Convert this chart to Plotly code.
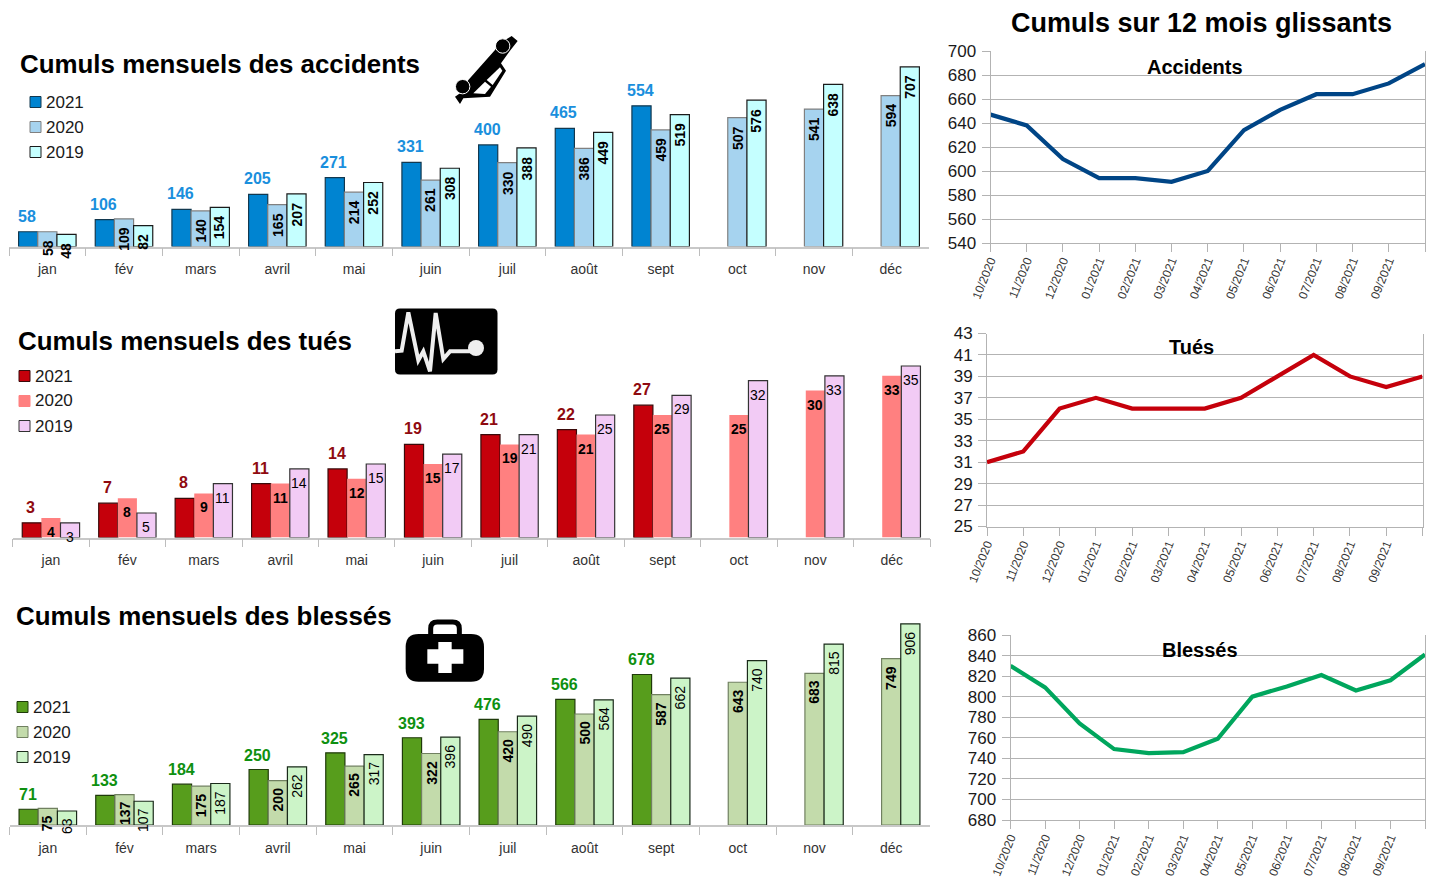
import plotly.graph_objects as go

WIDTH, HEIGHT = 1431, 878
FONT = "Liberation Sans"

months = ["jan", "fév", "mars", "avril", "mai", "juin", "juil", "août", "sept", "oct", "nov", "déc"]
roll_months = ["10/2020", "11/2020", "12/2020", "01/2021", "02/2021", "03/2021", "04/2021",
               "05/2021", "06/2021", "07/2021", "08/2021", "09/2021", ""]

acc_2021 = [58, 106, 146, 205, 271, 331, 400, 465, 554, None, None, None]
acc_2020 = [58, 109, 140, 165, 214, 261, 330, 386, 459, 507, 541, 594]
acc_2019 = [48, 82, 154, 207, 252, 308, 388, 449, 519, 576, 638, 707]

tues_2021 = [3, 7, 8, 11, 14, 19, 21, 22, 27, None, None, None]
tues_2020 = [4, 8, 9, 11, 12, 15, 19, 21, 25, 25, 30, 33]
tues_2019 = [3, 5, 11, 14, 15, 17, 21, 25, 29, 32, 33, 35]

bles_2021 = [71, 133, 184, 250, 325, 393, 476, 566, 678, None, None, None]
bles_2020 = [75, 137, 175, 200, 265, 322, 420, 500, 587, 643, 683, 749]
bles_2019 = [63, 107, 187, 262, 317, 396, 490, 564, 662, 740, 815, 906]

roll_acc = [647, 638, 610, 594, 594, 591, 600, 634, 651, 664, 664, 673, 689]
roll_tues = [31, 32, 36, 37, 36, 36, 36, 37, 39, 41, 39, 38, 39]
roll_bles = [830, 809, 774, 749, 745, 746, 759, 800, 810, 821, 806, 816, 841]


def px(x):
    return x / WIDTH


def py(y):
    return 1 - y / HEIGHT


def p(x, y):
    return f"{px(x):.5f},{py(y):.5f}"


fig = go.Figure()
annotations, shapes = [], []


def text(x, y, s, size, color="#000000", bold=False, anchor="left"):
    annotations.append(dict(
        xref="paper", yref="paper", x=px(x), y=py(y), text=f"<b>{s}</b>" if bold else s,
        showarrow=False, xanchor=anchor, yanchor="middle", borderpad=0, borderwidth=0,
        font=dict(family=FONT, size=size, color=color)))


def poly(points, fill="#000000"):
    d = "M " + " L ".join(p(*q) for q in points) + " Z"
    shapes.append(dict(type="path", xref="paper", yref="paper", path=d, fillcolor=fill,
                       line=dict(width=0), layer="above"))


def circle(cx, cy, r, fill="#000000", line=None, lw=0):
    shapes.append(dict(type="circle", xref="paper", yref="paper", x0=px(cx - r), x1=px(cx + r),
                       y0=py(cy + r), y1=py(cy - r), fillcolor=fill,
                       line=dict(width=lw, color=line or fill), layer="above"))


def rounded(x0, y0, x1, y1, r, fill):
    d = (f"M {p(x0 + r, y0)} L {p(x1 - r, y0)} Q {p(x1, y0)} {p(x1, y0 + r)} "
         f"L {p(x1, y1 - r)} Q {p(x1, y1)} {p(x1 - r, y1)} L {p(x0 + r, y1)} "
         f"Q {p(x0, y1)} {p(x0, y1 - r)} L {p(x0, y0 + r)} Q {p(x0, y0)} {p(x0 + r, y0)} Z")
    shapes.append(dict(type="path", xref="paper", yref="paper", path=d, fillcolor=fill,
                       line=dict(width=0), layer="above"))


def stroke(d, color, width):
    shapes.append(dict(type="path", xref="paper", yref="paper", path=d,
                       line=dict(width=width, color=color), layer="above"))


def bar_panel(idx, left, right, base, top, ymax, series, colors, lines, label2021, lift, inner, legend):
    xa, ya = f"xaxis{idx}", f"yaxis{idx}"
    xr, yr = f"x{idx}", f"y{idx}"
    years = ["2021", "2020", "2019"]
    for yr_name, vals, col, ln in zip(years, series, colors, lines):
        fig.add_trace(go.Bar(x=months, y=vals, name=yr_name, xaxis=xr, yaxis=yr, showlegend=False,
                             marker=dict(color=col, line=dict(color=ln, width=1.2 if ln else 0))))
    fig.layout[xa] = dict(domain=[px(left), px(right)], anchor=yr, type="category",
                          range=[-0.5, 11.5], tickson="boundaries", ticks="outside", ticklen=8,
                          tickcolor="#bdbdbd", tickwidth=1.2, showline=True, linecolor="#c8c8c8",
                          linewidth=1.5, showgrid=False, fixedrange=True, ticklabelstandoff=9,
                          tickfont=dict(family=FONT, size=14, color="#333333"))
    fig.layout[ya] = dict(domain=[py(base), py(top)], anchor=xr, range=[0, ymax], visible=False,
                          fixedrange=True)
    step = (right - left) / 12 * 0.25
    for i, m in enumerate(months):
        if series[0][i] is not None:
            annotations.append(dict(
                xref=xr, yref=yr, x=m, y=series[0][i], xshift=-step - 1, yshift=lift, showarrow=False,
                yanchor="bottom", text=f"<b>{series[0][i]}</b>", borderpad=0,
                font=dict(family=FONT, size=16, color=label2021)))
        for k, sh in ((1, 0.0), (2, step)):
            spec = inner[k - 1]
            annotations.append(dict(
                xref=xr, yref=yr, x=m, y=series[k][i], xshift=sh, yshift=spec["yshift"],
                showarrow=False, yanchor=spec["anchor"], textangle=spec["angle"], borderpad=0,
                text=f"<b>{series[k][i]}</b>" if spec["bold"] else str(series[k][i]),
                font=dict(family=FONT, size=spec["size"], color="#000000")))
    lx, ly0 = legend
    for j, (yn, col, ln) in enumerate(zip(years, colors, lines)):
        y = ly0 + 25 * j
        shapes.append(dict(type="rect", xref="paper", yref="paper", x0=px(lx), x1=px(lx + 11),
                           y0=py(y + 5.5), y1=py(y - 5.5), fillcolor=col,
                           line=dict(color=ln or col, width=1), layer="above"))
        text(lx + 15.5, y, yn, 17, "#1a1a1a")


def line_panel(idx, left, right, top, bottom, ymin, ymax, dtick, values, color, title, title_x, title_y):
    xa, ya = f"xaxis{idx}", f"yaxis{idx}"
    xr, yr = f"x{idx}", f"y{idx}"
    fig.add_trace(go.Scatter(x=list(range(13)), y=values, mode="lines", xaxis=xr, yaxis=yr,
                             showlegend=False, line=dict(color=color, width=4.2)))
    fig.layout[xa] = dict(domain=[px(left), px(right)], anchor=yr, range=[0, 12],
                          tickmode="array", tickvals=list(range(13)), ticktext=roll_months,
                          tickangle=-68, ticks="outside", ticklen=8, tickcolor="#b3b3b3",
                          showline=True, linecolor="#b3b3b3", linewidth=1, showgrid=False,
                          fixedrange=True, ticklabelstandoff=-3,
                          tickfont=dict(family=FONT, size=12, color="#333333"))
    fig.layout[ya] = dict(domain=[py(bottom), py(top)], anchor=xr, range=[ymin, ymax],
                          tick0=ymin, dtick=dtick, ticks="outside", ticklen=8, tickcolor="#b3b3b3",
                          showline=True, linecolor="#b3b3b3", linewidth=1, mirror=True,
                          showgrid=True, gridcolor="#b3b3b3", gridwidth=1, zeroline=False,
                          fixedrange=True, ticklabelstandoff=2,
                          tickfont=dict(family=FONT, size=17, color="#1a1a1a"))
    text(title_x, title_y, title, 20, "#000000", True, "center")


bar_panel(1, 9, 929, 246.5, 43.3, 800, [acc_2021, acc_2020, acc_2019],
          ["#0084D1", "#A6D3EF", "#C5FFFF"], ["#12384f", "#808080", "#1a1a1a"], "#1A8FDD", 6,
          [dict(angle=-90, bold=True, size=14, yshift=-7, anchor="top"),
           dict(angle=-90, bold=True, size=14, yshift=-7, anchor="top")],
          (30, 102))
bar_panel(2, 12.7, 930, 537.5, 341.5, 40, [tues_2021, tues_2020, tues_2019],
          ["#C5000B", "#FF8080", "#F2CBF5"], ["#3a0a0a", None, "#333333"], "#8F0A10", 6,
          [dict(angle=0, bold=True, size=14, yshift=-14, anchor="middle"),
           dict(angle=0, bold=False, size=14, yshift=-14, anchor="middle")],
          (19, 376))
bar_panel(3, 9.5, 929.5, 825, 603, 1000, [bles_2021, bles_2020, bles_2019],
          ["#579D1C", "#C3DBAB", "#CCF4C8"], ["#1f3a0a", "#708060", "#1a2a1a"], "#0E9010", 5,
          [dict(angle=-90, bold=True, size=14, yshift=-6, anchor="top"),
           dict(angle=-90, bold=False, size=14, yshift=-6, anchor="top")],
          (17, 707))

line_panel(4, 990.5, 1425, 51, 243, 540, 700, 20, roll_acc, "#004586", "Accidents", 1195, 67)
line_panel(5, 987, 1422.5, 333.5, 526.5, 25, 43, 2, roll_tues, "#C5000B", "Tués", 1191, 347)
line_panel(6, 1010.5, 1425, 635, 820, 680, 860, 20, roll_bles, "#00A65D", "Blessés", 1200, 650)

text(20, 64, "Cumuls mensuels des accidents", 25.9, bold=True)
text(18, 341, "Cumuls mensuels des tués", 25.9, bold=True)
text(16, 616, "Cumuls mensuels des blessés", 25.9, bold=True)
text(1201, 23, "Cumuls sur 12 mois glissants", 27, bold=True, anchor="center")


# Car icon (upended car)
def car(zx, zy):
    return (445 + zx / 3, 30 + zy / 3)


poly([car(*q) for q in [(200, 18), (218, 33), (195, 62), (168, 100), (183, 122), (135, 200), (55, 205),
                        (45, 222), (30, 200), (45, 190), (70, 150), (150, 60), (165, 40)]])
poly([car(*q) for q in [(165, 112), (125, 150), (143, 165), (172, 122)]], "#ffffff")
poly([car(*q) for q in [(120, 155), (85, 190), (120, 192), (138, 170)]], "#ffffff")
for c in [(173, 48), (53, 170)]:
    cx, cy = car(*c)
    circle(cx, cy, 7.2, "#000000", "#ffffff", 1)

# Heartbeat icon
rounded(395, 308.5, 497.5, 374.5, 5, "#000000")


def hb(zx, zy):
    return p(390 + zx / 3, 303 + zy / 3)


stroke("M " + " L ".join(hb(*q) for q in [(15, 145), (35, 143), (55, 28), (85, 172), (100, 145), (120, 205),
                                          (137, 30), (160, 168), (180, 145), (245, 145)]), "#eeeeee", 4)
circle(476, 348, 8, "#eeeeee")


# First-aid kit icon
def kit(zx, zy):
    return (400 + zx / 3, 612 + zy / 3)


x0, y0 = kit(17, 66)
x1, y1 = kit(252, 209)
rounded(x0, y0, x1, y1, 13, "#000000")
stroke(f"M {p(*kit(92, 70))} L {p(*kit(92, 50))} Q {p(*kit(92, 30))} {p(*kit(112, 30))} "
       f"L {p(*kit(158, 30))} Q {p(*kit(178, 30))} {p(*kit(178, 50))} L {p(*kit(178, 70))}",
       "#000000", 5)
poly([kit(*q) for q in [(82, 112), (115, 112), (115, 90), (155, 90), (155, 112), (190, 112), (190, 155),
                        (155, 155), (155, 183), (115, 183), (115, 155), (82, 155)]], "#ffffff")

fig.update_layout(
    width=WIDTH, height=HEIGHT, autosize=False,
    margin=dict(l=0, r=0, t=0, b=0, pad=0, autoexpand=False),
    paper_bgcolor="#ffffff", plot_bgcolor="#ffffff", barmode="group", bargap=0.25, bargroupgap=0,
    font=dict(family=FONT), annotations=annotations, shapes=shapes, hovermode=False,
)
fig.write_html("out.html", config=dict(displayModeBar=False, responsive=False),
               post_script="document.body.style.margin='0';document.body.style.overflow='hidden';")
